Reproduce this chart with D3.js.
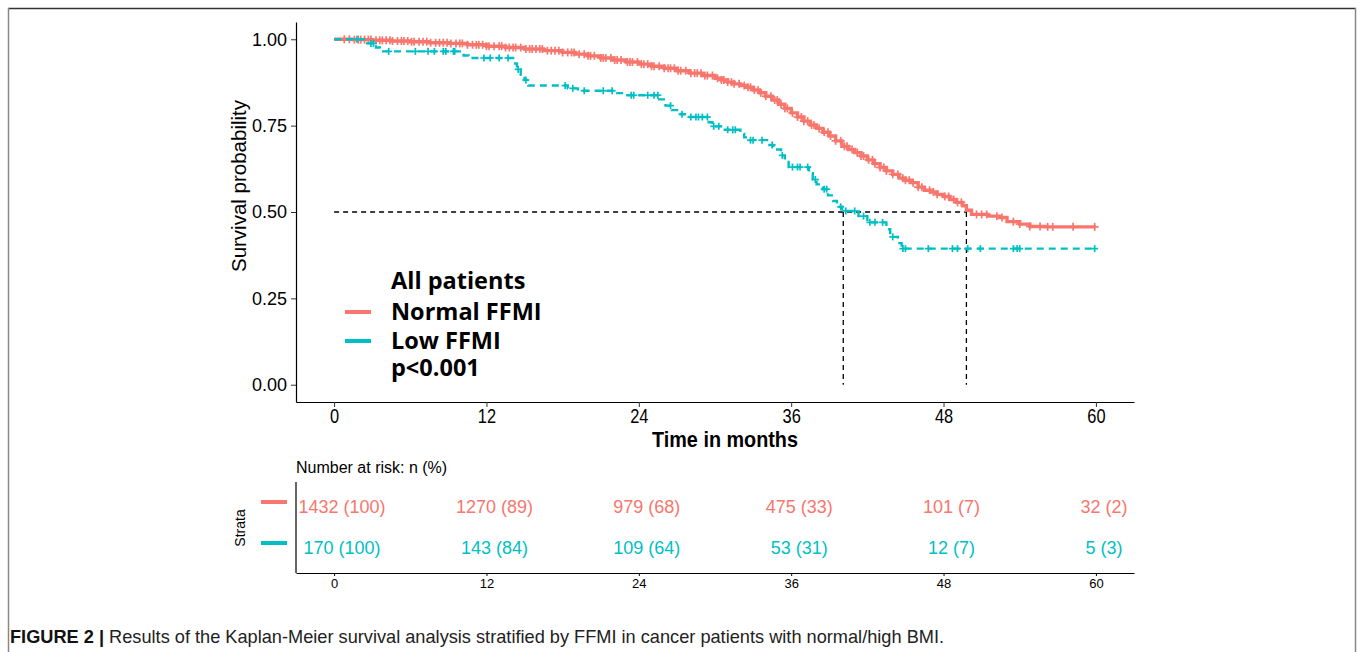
<!DOCTYPE html>
<html>
<head>
<meta charset="utf-8">
<script src="https://cdn.jsdelivr.net/npm/d3@7"></script>
<style>
  body { margin: 0; background: #fff; }
  svg { display: block; }
  .tick text { fill: #000; }
</style>
</head>
<body>
<svg id="chart" width="1360" height="652"></svg>
<script>
// Kaplan-Meier step points: [time in months, survival]
const normalSteps = [[0,1],[1.5,0.999],[3,0.997],[4.5,0.995],[6,0.993],[7.5,0.99],[9,0.988],[10.5,0.984],[12,0.98],[13.5,0.976],[15,0.972],[16.5,0.967],[18,0.962],[19,0.957],[20,0.952],[21,0.946],[22,0.94],[23,0.934],[24,0.928],[25,0.922],[26,0.916],[27,0.909],[28,0.902],[29,0.895],[30,0.887],[30.5,0.882],[31,0.876],[31.5,0.871],[32,0.866],[32.5,0.861],[33,0.853],[33.5,0.845],[34,0.835],[34.5,0.824],[35,0.812],[35.5,0.8],[36,0.787],[36.5,0.775],[37,0.763],[37.5,0.752],[38,0.742],[38.5,0.731],[39,0.72],[39.5,0.706],[40,0.69],[40.5,0.681],[41,0.672],[41.5,0.662],[42,0.651],[42.5,0.64],[43,0.629],[43.5,0.619],[44,0.609],[44.5,0.598],[45,0.592],[45.5,0.585],[46,0.572],[46.5,0.563],[47,0.558],[47.5,0.551],[48,0.545],[48.5,0.536],[49,0.528],[49.5,0.518],[49.8,0.505],[50.2,0.493],[51.5,0.488],[52.4,0.484],[53,0.472],[54,0.465],[54.8,0.458],[56,0.457],[60,0.457]];
const lowSteps = [[0,1],[2.5,0.988],[3.3,0.976],[3.6,0.965],[10.2,0.953],[10.6,0.946],[14.1,0.93],[14.4,0.913],[14.7,0.897],[15.0,0.882],[15.3,0.866],[18.4,0.858],[19.2,0.851],[22.3,0.844],[22.8,0.838],[25.6,0.826],[26.1,0.808],[26.6,0.795],[27.3,0.783],[27.8,0.775],[29.5,0.76],[29.8,0.748],[30.6,0.738],[32.0,0.726],[32.3,0.716],[32.7,0.708],[34.2,0.694],[34.6,0.681],[35.2,0.664],[35.5,0.645],[35.8,0.63],[37.4,0.612],[37.7,0.594],[38.0,0.58],[38.5,0.566],[38.9,0.548],[39.3,0.532],[39.6,0.515],[40.0,0.503],[41.3,0.488],[42.0,0.47],[43.5,0.45],[43.8,0.428],[44.4,0.41],[44.7,0.394],[60,0.394]];

// censored observations (months)
const normalCensor = [0.8,1.2,1.6,1.9,2.1,2.4,2.7,2.9,3.3,3.6,3.8,4.1,4.4,4.6,5.0,5.3,5.5,5.8,6.1,6.3,6.7,7.0,7.3,7.6,8.0,8.3,8.6,8.9,9.2,9.6,9.9,10.1,10.5,10.9,11.2,11.4,11.7,12.0,12.2,12.6,13.0,13.2,13.5,13.8,14.1,14.3,14.7,15.1,15.4,15.6,15.9,16.2,16.4,16.8,17.1,17.4,17.7,18.0,18.4,18.7,18.9,19.3,19.7,20.0,20.2,20.5,21.0,21.2,21.4,21.8,22.1,22.3,22.6,23.1,23.3,23.5,23.9,24.2,24.4,24.7,25.0,25.2,25.6,26.0,26.3,26.5,26.8,27.1,27.3,27.7,28.1,28.4,28.6,28.9,29.2,29.4,29.8,30.2,30.5,30.7,31.0,31.3,31.5,31.9,32.3,32.6,32.8,33.1,33.4,33.6,34.0,34.4,34.7,34.9,35.2,35.5,35.7,36.1,36.5,36.8,37.0,37.3,37.6,37.8,38.2,38.6,38.9,39.1,39.5,39.9,40.2,40.4,40.8,41.2,41.5,41.7,42.1,42.4,42.6,43.0,43.3,43.5,44.0,44.4,44.8,45.0,45.3,45.6,46.0,46.3,46.9,47.2,47.5,48.1,48.4,48.8,49.1,49.4,50.6,51.0,51.4,52.2,52.6,53.5,54.0,54.8,55.6,56.2,56.6,58.2,59.9];
const lowCensor = [1.8,2.9,3.1,4.3,6.4,7.4,7.9,8.6,8.8,9.4,9.5,11.8,12.3,13.0,13.7,14.5,15.1,18.2,18.8,19.7,21.2,21.9,23.4,23.6,24.7,25.2,25.5,26.5,27.4,28.1,28.5,28.7,29.0,29.4,29.9,30.3,31.0,31.4,31.6,32.8,33.0,33.7,34.5,35.3,36.1,36.5,36.7,37.3,37.9,38.6,38.8,39.9,40.3,41.0,41.7,42.2,42.6,43.2,44.0,44.8,45.0,46.8,48.7,49.1,49.9,50.9,53.5,53.8,54.0,59.9];

const medianNormal = 49.8;
const medianLow = 40.1;

const groups = ["Normal FFMI", "Low FFMI"];
const colors = ["#F8766D", "#00BFC4"];
const xTicks = [0, 12, 24, 36, 48, 60];
const yTicks = [0, 0.25, 0.5, 0.75, 1];
const riskNormal = ["1432 (100)", "1270 (89)", "979 (68)", "475 (33)", "101 (7)", "32 (2)"];
const riskLow = ["170 (100)", "143 (84)", "109 (64)", "53 (31)", "12 (7)", "5 (3)"];

const svg = d3.select("#chart");
const sans = "'Liberation Sans', Arial, sans-serif";

// figure frame
svg.append("line").attr("x1", 8).attr("x2", 1356).attr("y1", 8.5).attr("y2", 8.5)
    .attr("stroke", "#333").attr("stroke-width", 1.5);
svg.append("line").attr("x1", 8.5).attr("x2", 8.5).attr("y1", 8).attr("y2", 652)
    .attr("stroke", "#888").attr("stroke-width", 1.5);
svg.append("line").attr("x1", 1355.5).attr("x2", 1355.5).attr("y1", 8).attr("y2", 652)
    .attr("stroke", "#888").attr("stroke-width", 1.5);

const x = d3.scaleLinear().domain([-3, 63]).range([296, 1134]);
const y = d3.scaleLinear().domain([-0.05, 1.05]).range([402, 22]);

// axes
const xAxis = svg.append("g").attr("transform", "translate(0,402)")
    .call(d3.axisBottom(x).tickValues(xTicks).tickSize(5).tickSizeOuter(0));
xAxis.selectAll("text").attr("font-family", sans).attr("font-size", 20.5)
    .attr("transform", "scale(0.8,1)").attr("dy", "0.62em");
const yAxis = svg.append("g").attr("transform", "translate(296,0)")
    .call(d3.axisLeft(y).tickValues(yTicks).tickFormat(d3.format(".2f")).tickSize(5).tickSizeOuter(0));
yAxis.selectAll("text").attr("font-family", sans).attr("font-size", 18).attr("dx", "-1px");
svg.selectAll(".domain").attr("stroke", "#000").attr("stroke-width", 1.2);
svg.selectAll(".tick line").attr("stroke", "#333");

svg.append("text").attr("transform", "translate(725,447) scale(0.88,1)").attr("text-anchor", "middle")
    .attr("font-family", sans).attr("font-weight", "bold").attr("font-size", 22.5)
    .text("Time in months");
svg.append("text").attr("transform", `translate(246,${y(0.5) - 26}) rotate(-90)`)
    .attr("text-anchor", "middle").attr("font-family", sans).attr("font-size", 20.5)
    .text("Survival probability");

// median lines
const medG = svg.append("g").attr("stroke", "#000").attr("stroke-width", 1.3)
    .attr("stroke-dasharray", "5,4").attr("fill", "none");
medG.append("line").attr("x1", x(0)).attr("x2", x(medianNormal)).attr("y1", y(0.5)).attr("y2", y(0.5));
medG.append("line").attr("x1", x(medianLow)).attr("x2", x(medianLow)).attr("y1", y(0.5)).attr("y2", y(0));
medG.append("line").attr("x1", x(medianNormal)).attr("x2", x(medianNormal)).attr("y1", y(0.5)).attr("y2", y(0));

// survival curves
const line = d3.line().x(d => x(d[0])).y(d => y(d[1])).curve(d3.curveStepAfter);
function survAt(steps, t) {
    let s = steps[0][1];
    for (const p of steps) { if (p[0] <= t) s = p[1]; }
    return s;
}
function drawCurve(steps, censor, color, dashed) {
    svg.append("path").datum(steps).attr("d", line).attr("fill", "none")
        .attr("stroke", color).attr("stroke-width", dashed ? 2.4 : 3.4)
        .attr("stroke-dasharray", dashed ? "7,5" : null);
    const h = dashed ? 3.5 : 4;
    const g = svg.append("g").attr("stroke", color).attr("stroke-width", 1.7);
    censor.forEach(t => {
        const cx = x(t), cy = y(survAt(steps, t));
        g.append("line").attr("x1", cx - h).attr("x2", cx + h).attr("y1", cy).attr("y2", cy);
        g.append("line").attr("x1", cx).attr("x2", cx).attr("y1", cy - h).attr("y2", cy + h);
    });
}
drawCurve(normalSteps, normalCensor, colors[0], false);
drawCurve(lowSteps, lowCensor, colors[1], true);

// legend
const leg = svg.append("g").attr("font-family", "'Open Sans', 'Liberation Sans', sans-serif")
    .attr("font-weight", "bold").attr("font-size", 23.5);
leg.append("text").attr("x", 391).attr("y", 289).text("All patients");
groups.forEach((gname, i) => {
    const yy = 312 + i * 29;
    leg.append("line").attr("x1", 345).attr("x2", 371).attr("y1", yy).attr("y2", yy)
        .attr("stroke", colors[i]).attr("stroke-width", 4);
    leg.append("text").attr("x", 391).attr("y", yy + 8).text(gname);
});
leg.append("text").attr("x", 391).attr("y", 376).text("p<0.001");

// risk table
svg.append("text").attr("x", 296).attr("y", 473).attr("font-family", sans).attr("font-size", 16)
    .text("Number at risk: n (%)");
const xr = d3.scaleLinear().domain([-3, 63]).range([296, 1134]);
const rAxis = svg.append("g").attr("transform", "translate(0,573)")
    .call(d3.axisBottom(xr).tickValues(xTicks).tickSize(3).tickSizeOuter(0));
rAxis.selectAll("text").attr("font-family", sans).attr("font-size", 13);
rAxis.select(".domain").attr("stroke", "#000").attr("stroke-width", 1.2);
svg.append("line").attr("x1", 296).attr("x2", 296).attr("y1", 482).attr("y2", 573)
    .attr("stroke", "#000").attr("stroke-width", 1.2);

[riskNormal, riskLow].forEach((row, i) => {
    const yy = 507 + i * 41;
    svg.append("g").selectAll("text").data(row).join("text")
        .attr("x", (d, j) => xr(xTicks[j]) + 8).attr("y", yy).attr("dy", "0.35em")
        .attr("text-anchor", "middle").attr("font-family", sans).attr("font-size", 18)
        .attr("fill", colors[i]).text(d => d);
    svg.append("line").attr("x1", 261).attr("x2", 287).attr("y1", yy - 5).attr("y2", yy - 5)
        .attr("stroke", colors[i]).attr("stroke-width", 4);
});
svg.append("text").attr("transform", "translate(245,528) rotate(-90)").attr("text-anchor", "middle")
    .attr("font-family", sans).attr("font-size", 14).text("Strata");

// caption
const cap = svg.append("text").attr("x", 10).attr("y", 643).attr("font-family", sans).attr("font-size", 18.2);
cap.append("tspan").attr("font-weight", "bold").attr("fill", "#111").text("FIGURE 2 | ");
cap.append("tspan").attr("fill", "#222").text("Results of the Kaplan-Meier survival analysis stratified by FFMI in cancer patients with normal/high BMI.");
</script>
</body>
</html>
